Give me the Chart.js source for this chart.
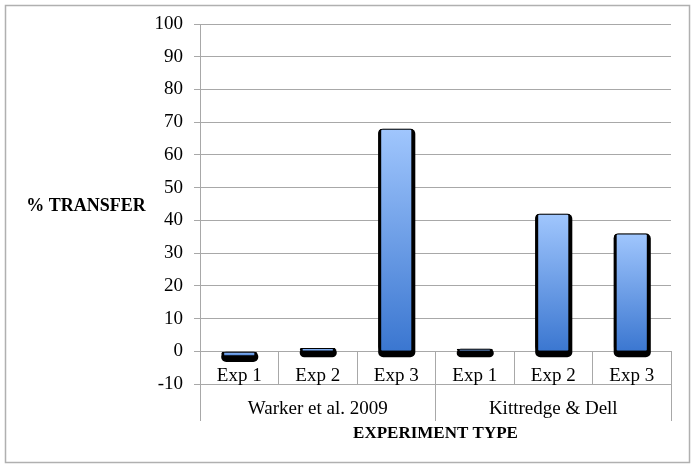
<!DOCTYPE html>
<html>
<head>
<meta charset="utf-8">
<script src="https://cdn.jsdelivr.net/npm/chart.js@4.4.0/dist/chart.umd.min.js"></script>
<style>
  html, body { margin: 0; padding: 0; background: #ffffff; }
  #wrap { position: relative; width: 695px; height: 468px; }
</style>
</head>
<body>
<div id="wrap"><canvas id="c" width="695" height="468"></canvas></div>
<script>
// ---- data ----
const expLabels = ['Exp 1', 'Exp 2', 'Exp 3', 'Exp 1', 'Exp 2', 'Exp 3'];
const groupLabels = ['Warker et al. 2009', 'Kittredge & Dell'];
const transferValues = [-1.3, 1, 68, 0.8, 42, 36];
const yTicksMin = -10;
const yTicksMax = 100;
const yTickStep = 10;
const yTitle = '% TRANSFER';
const xTitle = 'EXPERIMENT TYPE';

const FONT = '"Liberation Serif", "Times New Roman", serif';
const GRID = '#a8a8a8';

const frame = {
  id: 'frame',
  beforeDraw(chart) {
    const ctx = chart.ctx;
    ctx.save();
    ctx.fillStyle = '#ffffff';
    ctx.fillRect(0, 0, chart.width, chart.height);
    ctx.strokeStyle = '#b0b0b0';
    ctx.lineWidth = 1.5;
    ctx.strokeRect(5.5, 5.5, chart.width - 11, chart.height - 11);
    ctx.restore();
  },
  afterDraw(chart) {
    const ctx = chart.ctx;
    const ca = chart.chartArea;
    ctx.save();
    ctx.font = 'bold 18px ' + FONT;
    ctx.fillStyle = '#000';
    ctx.textAlign = 'center';
    ctx.textBaseline = 'middle';
    ctx.fillText(yTitle, 86, (ca.top + ca.bottom) / 2 + 2);
    ctx.restore();
  }
};

// dark drop shadow under each bar, placed from the bar elements' own geometry
const shadow = {
  id: 'barShadow',
  beforeDatasetsDraw(chart) {
    const ctx = chart.ctx;
    ctx.save();
    ctx.fillStyle = '#000000';
    chart.getSortedVisibleDatasetMetas().forEach(meta => {
      meta.data.forEach(bar => {
        const p = bar.getProps(['x', 'y', 'base', 'width'], true);
        const top = Math.min(p.y, p.base);
        const bottom = Math.max(p.y, p.base);
        const left = p.x - p.width / 2;
        ctx.beginPath();
        ctx.roundRect(left, top, p.width + 1, bottom - top + 6.5, 5);
        ctx.fill();
      });
    });
    ctx.restore();
  }
};

new Chart(document.getElementById('c'), {
  type: 'bar',
  data: {
    labels: expLabels,
    datasets: [{
      data: transferValues,
      xAxisID: 'x',
      yAxisID: 'y',
      backgroundColor: (c) => {
        const chart = c.chart;
        const ca = chart.chartArea;
        if (!ca || c.type !== 'data' || !chart.scales.y) return '#6a9fe8';
        const ys = chart.scales.y;
        const p1 = ys.getPixelForValue(c.raw);
        const p0 = ys.getPixelForValue(0);
        const top = Math.min(p1, p0), bot = Math.max(p1, p0);
        const g = chart.ctx.createLinearGradient(0, top, 0, bot + 1);
        g.addColorStop(0, '#a0c6fd');
        g.addColorStop(1, '#3a76d0');
        return g;
      },
      borderColor: '#000000',
      borderWidth: { top: 1, left: 3, right: 3, bottom: 0 },
      borderSkipped: false,
      borderRadius: 4,
      barPercentage: 0.46,
      categoryPercentage: 1.0
    }]
  },
  options: {
    responsive: false,
    animation: false,
    events: [],
    layout: { padding: { top: 24, right: 24, left: 0, bottom: 0 } },
    plugins: { legend: { display: false }, tooltip: { enabled: false }, title: { display: false } },
    scales: {
      y: {
        position: 'left',
        min: yTicksMin,
        max: yTicksMax,
        ticks: { stepSize: yTickStep, color: '#000', font: { family: FONT, size: 19 }, padding: 11 },
        grid: { color: GRID, tickLength: 6, lineWidth: 1 },
        border: { color: GRID },
        afterFit(s) { s.width = 200; }
      },
      x: {
        type: 'category',
        position: { y: 0 },
        offset: true,
        z: 1,
        grid: { drawOnChartArea: false, tickLength: 33, offset: true, color: GRID },
        border: { color: GRID },
        ticks: { color: '#000', font: { family: FONT, size: 19 }, padding: -20, maxRotation: 0, autoSkip: false }
      },
      x2: {
        type: 'category',
        labels: groupLabels,
        position: 'bottom',
        offset: true,
        grid: { drawOnChartArea: false, tickLength: 37, offset: true, color: GRID },
        border: { display: false },
        ticks: { color: '#000', font: { family: FONT, size: 19 }, padding: -23, maxRotation: 0, autoSkip: false },
        title: { display: true, text: xTitle, color: '#000', font: { family: FONT, size: 17, weight: 'bold' }, padding: { top: 0, bottom: 24 } },
        afterFit(s) { s.height = 84; }
      }
    }
  },
  plugins: [frame, shadow]
});
</script>
</body>
</html>
